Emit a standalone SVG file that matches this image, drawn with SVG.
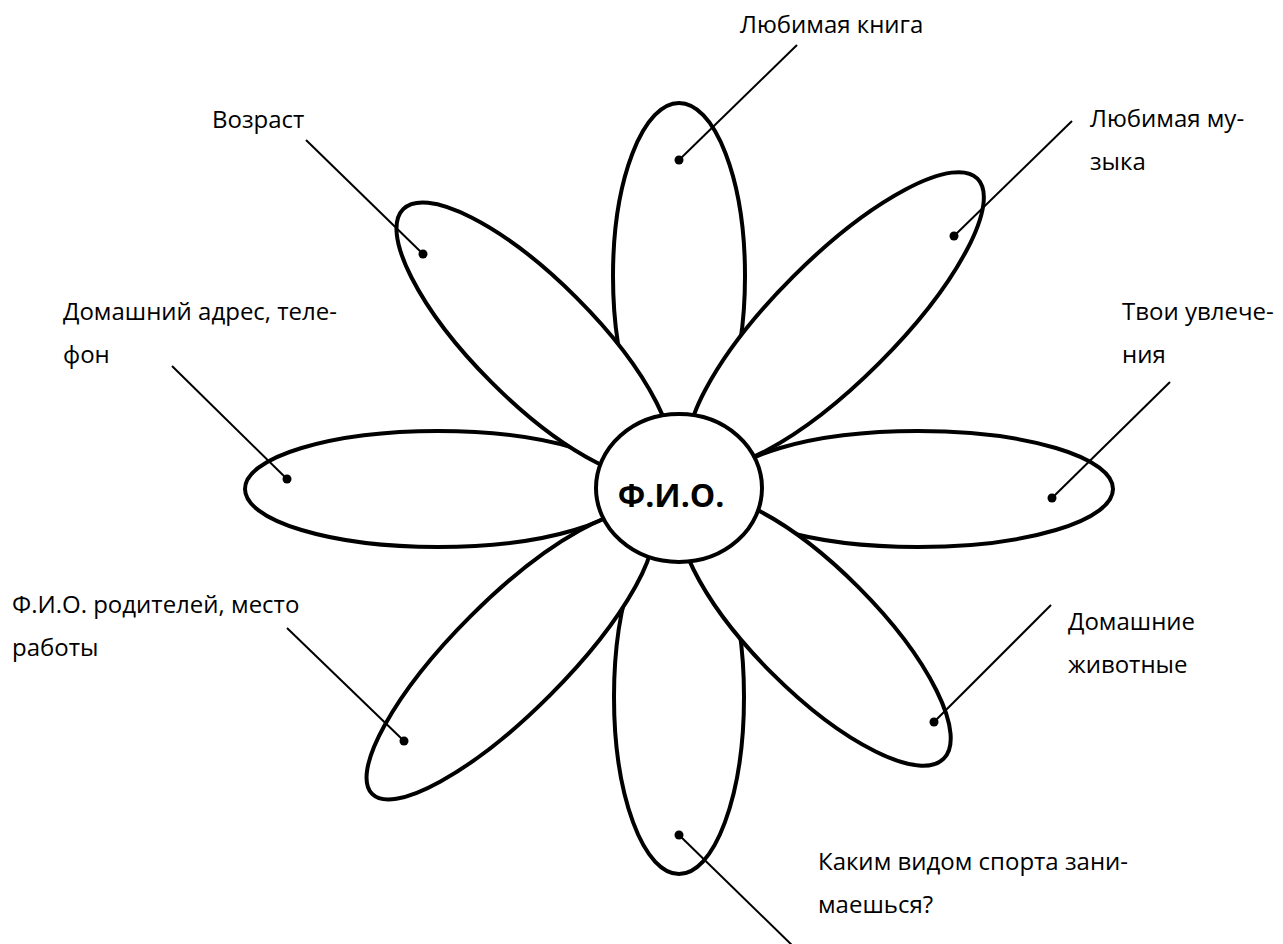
<svg xmlns="http://www.w3.org/2000/svg" width="1283" height="944" viewBox="0 0 1283 944">
<style>
.petal{fill:#fff;stroke:#000;stroke-width:4}
.lbl{font-family:"Open Sans","Liberation Sans",sans-serif;font-size:24px;fill:#000}
.conn line{stroke:#000;stroke-width:2}
.conn circle{fill:#000}
.title{font-family:"Open Sans","Liberation Sans",sans-serif;font-size:32px;font-weight:bold;fill:#000}
</style>
<rect width="1283" height="944" fill="#fff"/>
<g id="petal-book"><ellipse class="petal" cx="679" cy="276" rx="66" ry="173"/></g>
<g id="petal-sport"><ellipse class="petal" cx="679" cy="697" rx="65" ry="177"/></g>
<g id="petal-address"><ellipse class="petal" cx="438" cy="489" rx="193" ry="58"/></g>
<g id="petal-hobby"><ellipse class="petal" cx="918" cy="489" rx="195" ry="58"/></g>
<g id="petal-age"><ellipse class="petal" cx="0" cy="0" rx="185" ry="60" transform="translate(534 340) rotate(45)"/></g>
<g id="petal-music"><ellipse class="petal" cx="0" cy="0" rx="200" ry="61" transform="translate(836 320) rotate(-45)"/></g>
<g id="petal-parents"><ellipse class="petal" cx="0" cy="0" rx="195" ry="56" transform="translate(510 656) rotate(-45)"/></g>
<g id="petal-pets"><ellipse class="petal" cx="0" cy="0" rx="182" ry="61" transform="translate(815 630) rotate(45)"/></g>
<g id="center"><ellipse class="petal" cx="679" cy="488" rx="83" ry="74"/><text class="title" x="671" y="507" text-anchor="middle">Ф.И.О.</text></g>
<g id="connectors" class="conn">
<line x1="679" y1="160" x2="797" y2="45"/><circle cx="679" cy="160" r="4.5"/>
<line x1="954" y1="236" x2="1072" y2="121"/><circle cx="954" cy="236" r="4.5"/>
<line x1="423" y1="254" x2="306" y2="140"/><circle cx="423" cy="254" r="4.5"/>
<line x1="287" y1="479" x2="172" y2="366"/><circle cx="287" cy="479" r="4.5"/>
<line x1="1052" y1="498" x2="1170" y2="382"/><circle cx="1052" cy="498" r="4.5"/>
<line x1="404" y1="741" x2="287" y2="628"/><circle cx="404" cy="741" r="4.5"/>
<line x1="934" y1="722" x2="1051" y2="605"/><circle cx="934" cy="722" r="4.5"/>
<line x1="679" y1="835" x2="797" y2="950"/><circle cx="679" cy="835" r="4.5"/>
</g>
<g id="label-book"><text class="lbl" x="740" y="33">Любимая книга</text></g>
<g id="label-music"><text class="lbl" x="1090" y="127">Любимая му-</text><text class="lbl" x="1090" y="170">зыка</text></g>
<g id="label-age"><text class="lbl" x="212" y="128">Возраст</text></g>
<g id="label-address"><text class="lbl" x="63" y="320">Домашний адрес, теле-</text><text class="lbl" x="63" y="363">фон</text></g>
<g id="label-hobby"><text class="lbl" x="1122" y="320">Твои увлече-</text><text class="lbl" x="1122" y="363">ния</text></g>
<g id="label-parents"><text class="lbl" x="12" y="613">Ф.И.О. родителей, место</text><text class="lbl" x="12" y="656">работы</text></g>
<g id="label-pets"><text class="lbl" x="1068" y="630">Домашние</text><text class="lbl" x="1068" y="673">животные</text></g>
<g id="label-sport"><text class="lbl" x="818" y="870">Каким видом спорта зани-</text><text class="lbl" x="818" y="913">маешься?</text></g>
</svg>
